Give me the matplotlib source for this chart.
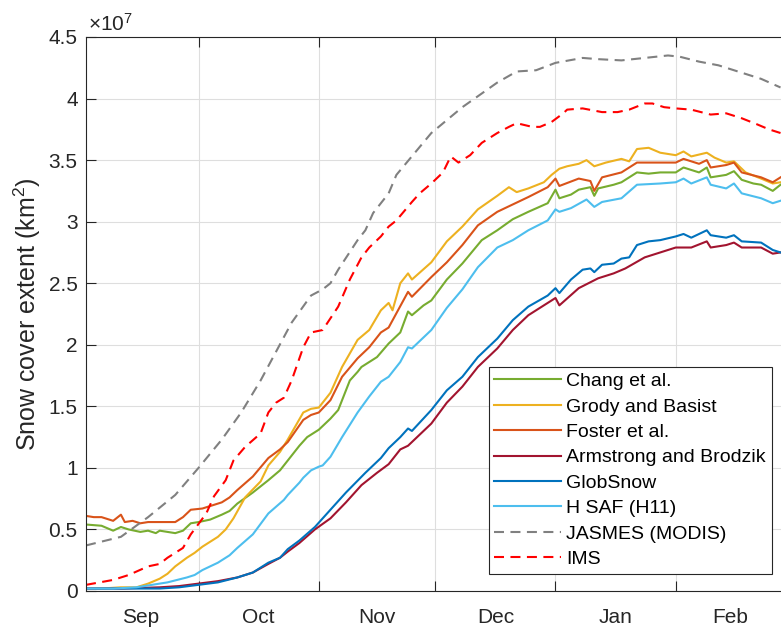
import matplotlib
matplotlib.use("Agg")
import matplotlib.pyplot as plt
from matplotlib.ticker import FixedLocator, NullFormatter, FixedFormatter

plt.rcParams['font.family'] = ['Liberation Sans', 'DejaVu Sans']
plt.rcParams['mathtext.fontset'] = 'custom'
plt.rcParams['mathtext.rm'] = 'Liberation Sans'
plt.rcParams['mathtext.it'] = 'Liberation Sans:italic'

# x = day since 1 Sep; y in units of 1e7 km^2
chang_x = [1, 5, 8, 10, 12, 15, 17, 19, 20, 22, 24, 26, 28, 30, 33, 36, 38, 40, 44, 48, 51, 53, 56, 58, 61, 64, 66, 69, 71, 72, 76, 79, 82, 84, 85, 88, 90, 94, 98, 103, 107, 111, 115, 120, 122, 123, 126, 128, 131, 132, 133, 137, 139, 143, 146, 149, 153, 155, 159, 161, 162, 164, 166, 168, 170, 173, 175, 178, 180]
chang_y = [0.54, 0.53, 0.49, 0.52, 0.50, 0.48, 0.49, 0.47, 0.49, 0.48, 0.47, 0.49, 0.55, 0.56, 0.58, 0.62, 0.65, 0.71, 0.80, 0.90, 0.98, 1.06, 1.18, 1.25, 1.31, 1.40, 1.47, 1.71, 1.78, 1.82, 1.90, 2.01, 2.10, 2.27, 2.24, 2.32, 2.36, 2.53, 2.66, 2.85, 2.93, 3.02, 3.08, 3.15, 3.26, 3.19, 3.22, 3.26, 3.28, 3.21, 3.27, 3.30, 3.32, 3.40, 3.39, 3.40, 3.40, 3.44, 3.40, 3.44, 3.36, 3.37, 3.38, 3.41, 3.34, 3.31, 3.30, 3.25, 3.30]

grody_x = [1, 5, 10, 14, 17, 20, 22, 24, 27, 29, 31, 35, 37, 39, 42, 46, 48, 51, 53, 57, 59, 61, 64, 67, 71, 74, 77, 79, 80, 82, 84, 85, 90, 94, 98, 102, 107, 110, 112, 115, 119, 121, 123, 125, 128, 130, 132, 135, 139, 141, 143, 146, 149, 153, 155, 157, 161, 163, 166, 168, 171, 175, 178, 180]
grody_y = [0.02, 0.02, 0.03, 0.03, 0.06, 0.10, 0.14, 0.20, 0.27, 0.31, 0.36, 0.44, 0.50, 0.59, 0.76, 0.89, 1.02, 1.13, 1.23, 1.45, 1.48, 1.49, 1.61, 1.82, 2.04, 2.12, 2.28, 2.34, 2.28, 2.50, 2.58, 2.53, 2.67, 2.84, 2.96, 3.10, 3.21, 3.28, 3.24, 3.27, 3.32, 3.38, 3.43, 3.45, 3.47, 3.50, 3.45, 3.48, 3.51, 3.49, 3.59, 3.60, 3.56, 3.54, 3.57, 3.53, 3.56, 3.52, 3.48, 3.49, 3.40, 3.35, 3.31, 3.32]

foster_x = [1, 3, 5, 8, 10, 11, 13, 15, 17, 19, 21, 24, 26, 28, 31, 34, 36, 38, 40, 44, 48, 51, 53, 57, 59, 61, 64, 67, 71, 74, 77, 79, 84, 85, 90, 94, 98, 102, 107, 111, 115, 120, 122, 123, 128, 131, 132, 134, 139, 143, 149, 153, 155, 159, 161, 162, 166, 168, 170, 175, 178, 180]
foster_y = [0.61, 0.60, 0.60, 0.57, 0.62, 0.56, 0.57, 0.55, 0.56, 0.56, 0.56, 0.56, 0.60, 0.66, 0.67, 0.70, 0.72, 0.76, 0.82, 0.93, 1.08, 1.15, 1.21, 1.39, 1.43, 1.45, 1.55, 1.74, 1.89, 1.98, 2.10, 2.14, 2.43, 2.39, 2.55, 2.67, 2.81, 2.97, 3.08, 3.14, 3.20, 3.28, 3.35, 3.29, 3.35, 3.33, 3.25, 3.36, 3.40, 3.48, 3.48, 3.48, 3.51, 3.47, 3.50, 3.44, 3.46, 3.48, 3.40, 3.36, 3.32, 3.36]

armstrong_x = [1, 10, 20, 25, 30, 35, 40, 44, 48, 51, 53, 56, 60, 64, 68, 72, 76, 79, 82, 84, 85, 90, 94, 98, 102, 107, 111, 115, 120, 122, 123, 128, 133, 137, 140, 145, 149, 153, 157, 161, 162, 166, 168, 170, 175, 178, 180]
armstrong_y = [0.02, 0.02, 0.03, 0.04, 0.06, 0.08, 0.11, 0.15, 0.22, 0.27, 0.32, 0.39, 0.50, 0.59, 0.72, 0.86, 0.96, 1.03, 1.15, 1.18, 1.21, 1.36, 1.53, 1.66, 1.82, 1.97, 2.12, 2.24, 2.34, 2.38, 2.32, 2.46, 2.54, 2.58, 2.62, 2.71, 2.75, 2.79, 2.79, 2.84, 2.79, 2.81, 2.83, 2.79, 2.79, 2.74, 2.75]

globsnow_x = [1, 10, 20, 25, 30, 35, 40, 44, 48, 51, 53, 56, 60, 64, 68, 73, 77, 79, 82, 84, 85, 90, 94, 98, 102, 107, 111, 115, 120, 122, 123, 126, 129, 131, 132, 134, 137, 139, 141, 143, 146, 149, 153, 155, 157, 161, 162, 166, 168, 170, 175, 178, 180]
globsnow_y = [0.02, 0.02, 0.02, 0.03, 0.05, 0.07, 0.11, 0.15, 0.23, 0.27, 0.34, 0.41, 0.52, 0.66, 0.80, 0.96, 1.08, 1.16, 1.25, 1.32, 1.30, 1.47, 1.63, 1.74, 1.90, 2.05, 2.20, 2.31, 2.40, 2.46, 2.42, 2.53, 2.61, 2.62, 2.59, 2.65, 2.66, 2.70, 2.71, 2.81, 2.84, 2.85, 2.88, 2.90, 2.87, 2.93, 2.89, 2.87, 2.89, 2.84, 2.83, 2.77, 2.75]

hsaf_x = [1, 8, 14, 22, 27, 29, 31, 35, 38, 40, 44, 48, 52, 53, 56, 57, 59, 61, 62, 64, 67, 71, 74, 77, 79, 82, 84, 85, 90, 94, 98, 102, 107, 111, 115, 120, 122, 123, 126, 130, 132, 134, 139, 143, 149, 153, 155, 157, 161, 162, 166, 168, 170, 175, 178, 180]
hsaf_y = [0.02, 0.02, 0.03, 0.07, 0.11, 0.13, 0.17, 0.23, 0.29, 0.35, 0.46, 0.63, 0.74, 0.78, 0.88, 0.92, 0.98, 1.01, 1.02, 1.09, 1.25, 1.45, 1.58, 1.70, 1.74, 1.86, 1.98, 1.97, 2.12, 2.30, 2.45, 2.63, 2.79, 2.85, 2.93, 3.01, 3.10, 3.08, 3.11, 3.18, 3.12, 3.16, 3.19, 3.30, 3.31, 3.32, 3.35, 3.31, 3.36, 3.30, 3.27, 3.31, 3.23, 3.19, 3.15, 3.17]

jasmes_x = [1, 10, 17, 24, 30, 36, 41, 46, 54, 59, 62, 64, 66, 71, 73, 75, 79, 81, 90, 98, 107, 112, 117, 122, 129, 133, 139, 145, 151, 154, 159, 164, 170, 175, 180]
jasmes_y = [0.37, 0.44, 0.60, 0.78, 1.00, 1.23, 1.45, 1.71, 2.18, 2.40, 2.45, 2.50, 2.61, 2.85, 2.93, 3.07, 3.23, 3.38, 3.72, 3.93, 4.13, 4.22, 4.23, 4.29, 4.33, 4.32, 4.31, 4.33, 4.35, 4.34, 4.30, 4.27, 4.21, 4.16, 4.09]

ims_x = [1, 8, 12, 17, 20, 22, 26, 28, 32, 34, 37, 39, 42, 46, 48, 50, 52, 54, 57, 59, 62, 66, 69, 72, 74, 77, 79, 81, 85, 87, 90, 93, 95, 97, 100, 103, 107, 110, 112, 116, 118, 121, 124, 125, 129, 134, 138, 141, 145, 147, 150, 153, 157, 162, 166, 170, 174, 177, 180]
ims_y = [0.05, 0.09, 0.13, 0.20, 0.22, 0.27, 0.35, 0.46, 0.63, 0.77, 0.90, 1.06, 1.17, 1.28, 1.45, 1.53, 1.57, 1.71, 1.98, 2.10, 2.12, 2.31, 2.53, 2.71, 2.79, 2.88, 2.96, 3.01, 3.16, 3.23, 3.31, 3.40, 3.53, 3.48, 3.54, 3.64, 3.72, 3.77, 3.80, 3.77, 3.77, 3.81, 3.88, 3.91, 3.92, 3.89, 3.89, 3.91, 3.96, 3.96, 3.93, 3.92, 3.91, 3.87, 3.88, 3.84, 3.79, 3.75, 3.72]

series = [
    ("Chang et al.", chang_x, chang_y, "#77AC30", "-"),
    ("Grody and Basist", grody_x, grody_y, "#EDB120", "-"),
    ("Foster et al.", foster_x, foster_y, "#D95319", "-"),
    ("Armstrong and Brodzik", armstrong_x, armstrong_y, "#A2142F", "-"),
    ("GlobSnow", globsnow_x, globsnow_y, "#0072BD", "-"),
    ("H SAF (H11)", hsaf_x, hsaf_y, "#4DBEEE", "-"),
    ("JASMES (MODIS)", jasmes_x, jasmes_y, "#808080", "--"),
    ("IMS", ims_x, ims_y, "#FF0000", "--"),
]

month_bounds = [30, 61, 91, 122, 153]
month_centers = [15, 45.5, 76, 106.5, 137.5, 167]
month_labels = ["Sep", "Oct", "Nov", "Dec", "Jan", "Feb"]
y_ticks = [0, 0.5, 1, 1.5, 2, 2.5, 3, 3.5, 4, 4.5]
y_labels = ["0", "0.5", "1", "1.5", "2", "2.5", "3", "3.5", "4", "4.5"]

fig = plt.figure(figsize=(7.81, 6.30), dpi=100)
ax = fig.add_axes([86 / 781, 39 / 630, 698.4 / 781, 554 / 630])

axcol = "#262626"
fs = 15
for name, xs, ys, col, ls in series:
    if ls == "--":
        ax.plot(xs, ys, color=col, lw=1.5, linestyle=(0, (4.8, 3.1)), label=name)
    else:
        ax.plot(xs, ys, color=col, lw=1.5, label=name)

ax.set_xlim(1, 181)
ax.set_ylim(0, 4.5)
ax.xaxis.set_major_locator(FixedLocator(month_bounds))
ax.xaxis.set_major_formatter(NullFormatter())
ax.xaxis.set_minor_locator(FixedLocator(month_centers))
ax.xaxis.set_minor_formatter(FixedFormatter(month_labels))
ax.yaxis.set_major_locator(FixedLocator(y_ticks))
ax.yaxis.set_major_formatter(FixedFormatter(y_labels))

ax.tick_params(axis="x", which="major", direction="in", length=7, width=0.8, color=axcol, top=True, bottom=True)
ax.tick_params(axis="x", which="minor", length=0, pad=12, labelsize=fs, labelcolor=axcol)
ax.tick_params(axis="y", which="major", direction="in", length=7, width=0.8, color=axcol, pad=6, labelsize=fs, labelcolor=axcol)

ax.grid(True, which="major", color="#dedede", lw=0.8)
ax.set_axisbelow(True)
for s in ["left", "top", "bottom"]:
    ax.spines[s].set_color(axcol)
    ax.spines[s].set_linewidth(0.8)
ax.spines["right"].set_visible(False)

ax.set_ylabel(r"Snow cover extent (km$^2$)", fontsize=18, color=axcol)
ax.yaxis.set_label_coords(-0.062, 0.5)
ax.text(0.003, 1.004, r"$\times$10$^7$", transform=ax.transAxes, ha="left", va="bottom", fontsize=fs, color=axcol)

leg = ax.legend(loc="lower right", bbox_to_anchor=(0.982, 0.031), fontsize=14, frameon=True, fancybox=False,
                edgecolor=axcol, framealpha=1, handlelength=3.4, handletextpad=0.3, labelspacing=0.4,
                borderpad=0.3, borderaxespad=0)
leg.get_frame().set_linewidth(0.8)

fig.savefig("out.png", dpi=100)
